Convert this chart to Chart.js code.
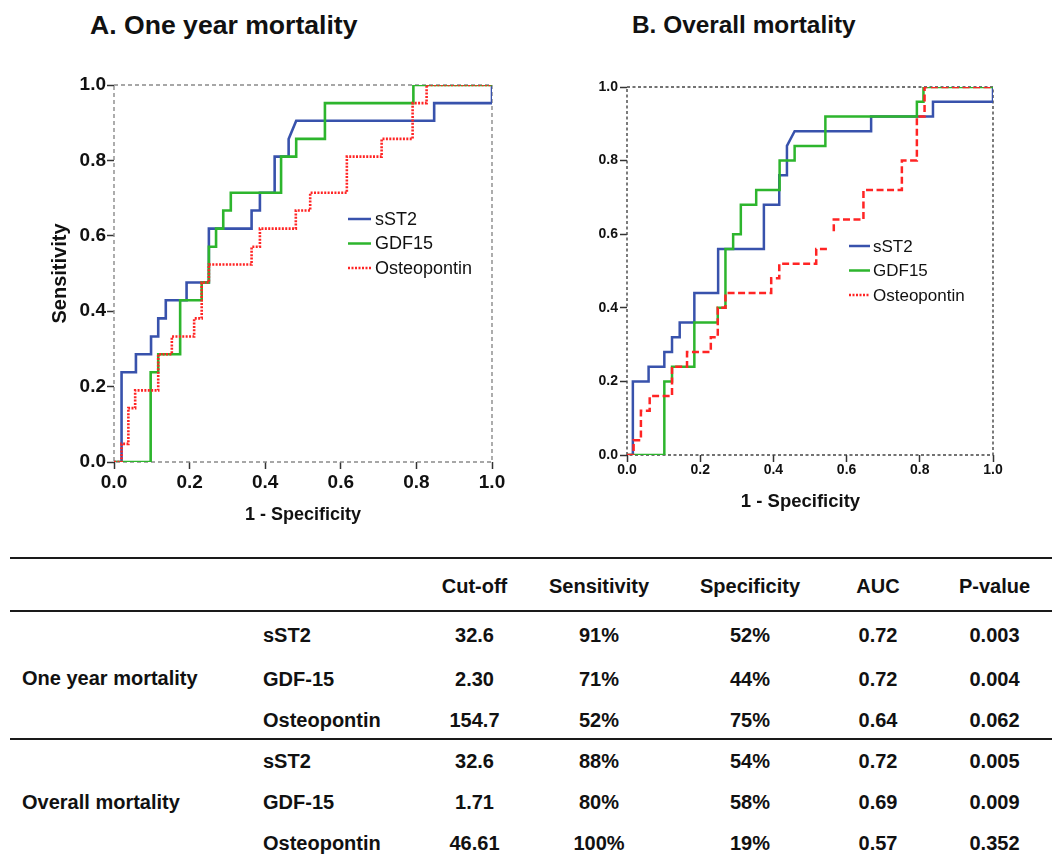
<!DOCTYPE html>
<html>
<head>
<meta charset="utf-8">
<script src="https://cdn.jsdelivr.net/npm/chart.js@4/dist/chart.umd.min.js"></script>
<style>
  html,body{margin:0;padding:0;background:#fff;}
  body{width:1052px;height:856px;position:relative;overflow:hidden;font-family:'Liberation Sans',Arial,Helvetica,sans-serif;color:#111;}
  .abs{position:absolute;white-space:nowrap;font-weight:bold;}
  .rule{position:absolute;left:10px;width:1042px;height:2px;background:#1a1a1a;}
  canvas{position:absolute;top:0;}
</style>
</head>
<body>
<div class="abs" style="left:90px;top:10px;font-size:26.6px;line-height:30px;">A. One year mortality</div>
<div class="abs" style="left:632px;top:10px;font-size:24.4px;line-height:30px;">B. Overall mortality</div>
<canvas id="chartA" width="520" height="540" style="left:0px"></canvas>
<canvas id="chartB" width="532" height="540" style="left:520px"></canvas>
<div id="table"></div>
<script>
// ---------- DATA ----------
const axisTicks = [0, 0.2, 0.4, 0.6, 0.8, 1.0];
const seriesNames = ['sST2', 'GDF15', 'Osteopontin'];

// Panel A: one year mortality (1 - specificity, sensitivity)
const A_sST2_fpr = [0, 0.02, 0.02, 0.058, 0.058, 0.098, 0.098, 0.117, 0.117, 0.137, 0.137, 0.192, 0.192, 0.251, 0.251, 0.364, 0.364, 0.386, 0.386, 0.425, 0.425, 0.462, 0.462, 0.482, 0.847, 0.847, 1.0, 1.0];
const A_sST2_tpr = [0, 0, 0.238, 0.238, 0.286, 0.286, 0.333, 0.333, 0.381, 0.381, 0.429, 0.429, 0.476, 0.476, 0.619, 0.619, 0.667, 0.667, 0.714, 0.714, 0.810, 0.810, 0.857, 0.905, 0.905, 0.952, 0.952, 1.0];
const A_GDF15_fpr = [0, 0.097, 0.097, 0.117, 0.117, 0.175, 0.175, 0.232, 0.232, 0.251, 0.251, 0.270, 0.270, 0.289, 0.289, 0.309, 0.309, 0.442, 0.442, 0.482, 0.482, 0.558, 0.558, 0.792, 0.792, 1.0];
const A_GDF15_tpr = [0, 0, 0.238, 0.238, 0.286, 0.286, 0.429, 0.429, 0.476, 0.476, 0.571, 0.571, 0.619, 0.619, 0.667, 0.667, 0.714, 0.714, 0.810, 0.810, 0.857, 0.857, 0.952, 0.952, 1.0, 1.0];
const A_OPN_fpr = [0, 0.02, 0.02, 0.038, 0.038, 0.056, 0.056, 0.117, 0.117, 0.153, 0.153, 0.212, 0.212, 0.232, 0.232, 0.251, 0.251, 0.364, 0.364, 0.386, 0.386, 0.481, 0.481, 0.519, 0.519, 0.616, 0.616, 0.708, 0.708, 0.790, 0.790, 0.827, 0.827, 1.0];
const A_OPN_tpr = [0, 0, 0.048, 0.048, 0.143, 0.143, 0.190, 0.190, 0.286, 0.286, 0.333, 0.333, 0.381, 0.381, 0.476, 0.476, 0.524, 0.524, 0.571, 0.571, 0.619, 0.619, 0.667, 0.667, 0.714, 0.714, 0.810, 0.810, 0.857, 0.857, 0.952, 0.952, 1.0, 1.0];

// Panel B: overall mortality
const B_sST2_fpr = [0, 0.016, 0.016, 0.059, 0.059, 0.102, 0.102, 0.123, 0.123, 0.144, 0.144, 0.184, 0.184, 0.249, 0.249, 0.374, 0.374, 0.416, 0.416, 0.437, 0.437, 0.458, 0.667, 0.667, 0.836, 0.836, 1.0, 1.0];
const B_sST2_tpr = [0, 0, 0.20, 0.20, 0.24, 0.24, 0.28, 0.28, 0.32, 0.32, 0.36, 0.36, 0.44, 0.44, 0.56, 0.56, 0.68, 0.68, 0.76, 0.76, 0.84, 0.88, 0.88, 0.92, 0.92, 0.96, 0.96, 1.0];
const B_GDF15_fpr = [0, 0.102, 0.102, 0.123, 0.123, 0.184, 0.184, 0.248, 0.248, 0.269, 0.269, 0.290, 0.290, 0.311, 0.311, 0.353, 0.353, 0.417, 0.417, 0.458, 0.458, 0.542, 0.542, 0.792, 0.792, 0.810, 0.810, 1.0];
const B_GDF15_tpr = [0, 0, 0.20, 0.20, 0.24, 0.24, 0.36, 0.36, 0.40, 0.40, 0.56, 0.56, 0.60, 0.60, 0.68, 0.68, 0.72, 0.72, 0.80, 0.80, 0.84, 0.84, 0.92, 0.92, 0.96, 0.96, 1.0, 1.0];
const B_OPN_fpr = [0, 0.018, 0.018, 0.038, 0.038, 0.062, 0.062, 0.123, 0.123, 0.164, 0.164, 0.229, 0.229, 0.248, 0.248, 0.269, 0.269, 0.394, 0.394, 0.416, 0.416, 0.517, 0.517, 0.565, 0.565, 0.646, 0.646, 0.751, 0.751, 0.792, 0.792, 0.813, 0.813, 1.0];
const B_OPN_tpr = [0, 0, 0.04, 0.04, 0.12, 0.12, 0.16, 0.16, 0.24, 0.24, 0.28, 0.28, 0.32, 0.32, 0.40, 0.40, 0.44, 0.44, 0.48, 0.48, 0.52, 0.52, 0.56, 0.56, 0.64, 0.64, 0.72, 0.72, 0.80, 0.80, 0.92, 0.92, 1.0, 1.0];

// Table
const tableHeaders = ['Cut-off', 'Sensitivity', 'Specificity', 'AUC', 'P-value'];
const groupLabels = ['One year mortality', 'Overall mortality'];
const markerNames = ['sST2', 'GDF-15', 'Osteopontin'];
const oneYearCutoff = ['32.6', '2.30', '154.7'];
const oneYearSens = ['91%', '71%', '52%'];
const oneYearSpec = ['52%', '44%', '75%'];
const oneYearAUC = ['0.72', '0.72', '0.64'];
const oneYearP = ['0.003', '0.004', '0.062'];
const overallCutoff = ['32.6', '1.71', '46.61'];
const overallSens = ['88%', '80%', '100%'];
const overallSpec = ['54%', '58%', '19%'];
const overallAUC = ['0.72', '0.69', '0.57'];
const overallP = ['0.005', '0.009', '0.352'];

// ---------- STYLE ----------
const BLUE = '#3852AC', GREEN = '#2DB52D', RED = '#FF2424';
const FONT = "'Liberation Sans', Arial, Helvetica, sans-serif";

function pts(xs, ys) { return xs.map((x, i) => ({x: x, y: ys[i]})); }

const framePlugin = {
  id: 'frame',
  beforeDatasetsDraw(chart, args, o) {
    const {ctx, chartArea: a} = chart;
    ctx.save();
    ctx.setLineDash(o.dash);
    ctx.strokeStyle = o.color;
    ctx.lineWidth = o.width;
    ctx.strokeRect(a.left, a.top, a.right - a.left, a.bottom - a.top);
    ctx.restore();
  },
  afterDatasetsDraw(chart, args, o) {
    const ctx = chart.ctx, L = o.legend;
    ctx.save();
    ctx.fillStyle = '#fff';
    ctx.fillRect(L.box[0], L.box[1], L.box[2], L.box[3]);
    ctx.font = L.size + 'px ' + FONT;
    ctx.textBaseline = 'middle';
    ctx.textAlign = 'left';
    L.items.forEach((it, i) => {
      const y = L.y0 + i * L.dy;
      ctx.beginPath();
      ctx.setLineDash(it.dash);
      ctx.strokeStyle = it.color;
      ctx.lineWidth = 2.5;
      ctx.moveTo(L.x0, y); ctx.lineTo(L.x1, y);
      ctx.stroke();
      ctx.setLineDash([]);
      ctx.fillStyle = '#111';
      ctx.fillText(it.label, L.tx, y + 1);
    });
    if (o.xTitle) {
      const t = o.xTitle;
      ctx.font = 'bold ' + t.size + 'px ' + FONT;
      ctx.textAlign = 'center';
      ctx.fillStyle = '#111';
      ctx.fillText(t.text, t.x, t.y);
    }
    ctx.restore();
  }
};

function makeChart(id, sets, c) {
  return new Chart(document.getElementById(id), {
    type: 'line',
    data: {datasets: sets},
    options: {
      responsive: false,
      animation: false,
      layout: {padding: c.padding},
      elements: {point: {radius: 0}, line: {tension: 0}},
      plugins: {
        legend: {display: false},
        tooltip: {enabled: false},
        frame: {dash: c.frameDash, color: c.frameColor, width: c.frameWidth, legend: c.legend, xTitle: c.xTitleDraw}
      },
      scales: {
        x: {
          type: 'linear', min: 0, max: 1,
          afterBuildTicks: s => { s.ticks = axisTicks.map(v => ({value: v})); },
          ticks: {callback: v => Number(v).toFixed(1), font: {size: c.tickSize, weight: 'bold', family: FONT}, color: '#111', padding: c.xPad, maxRotation: 0, autoSkip: false},
          grid: {drawOnChartArea: false, drawTicks: true, tickLength: c.tl, tickColor: '#333', tickWidth: 1.5},
          border: {display: false},
          title: {display: c.xTitle, text: '1 - Specificity', font: {size: c.titleSize, weight: 'bold', family: FONT}, color: '#111', padding: {top: 0, bottom: c.xTitlePad}},
          afterFit: s => { s.height = c.xh; }
        },
        y: {
          type: 'linear', min: 0, max: 1,
          afterBuildTicks: s => { s.ticks = axisTicks.map(v => ({value: v})); },
          ticks: {callback: v => Number(v).toFixed(1), font: {size: c.tickSize, weight: 'bold', family: FONT}, color: '#111', padding: c.yPad, autoSkip: false},
          grid: {drawOnChartArea: false, drawTicks: true, tickLength: c.tl, tickColor: '#333', tickWidth: 1.5},
          border: {display: false},
          title: {display: c.yTitle, text: 'Sensitivity', font: {size: c.yTitleSize, weight: 'bold', family: FONT}, color: '#111', padding: {top: c.yTitlePad, bottom: 0}},
          afterFit: s => { s.width = c.yw; }
        }
      }
    },
    plugins: [framePlugin]
  });
}

function legendItems() {
  return [
    {label: seriesNames[0], color: BLUE, dash: []},
    {label: seriesNames[1], color: GREEN, dash: []},
    {label: seriesNames[2], color: RED, dash: [2, 1.5]}
  ];
}

makeChart('chartA', [
  {label: seriesNames[2], data: pts(A_OPN_fpr, A_OPN_tpr), borderColor: RED, borderWidth: 2.6, borderDash: [2, 1.4], order: 0},
  {label: seriesNames[1], data: pts(A_GDF15_fpr, A_GDF15_tpr), borderColor: GREEN, borderWidth: 2.6, order: 1},
  {label: seriesNames[0], data: pts(A_sST2_fpr, A_sST2_tpr), borderColor: BLUE, borderWidth: 2.6, order: 2}
], {
  padding: {left: 0, right: 28, top: 85, bottom: 0},
  yw: 114, xh: 78, tl: 7, xPad: 2.5, yPad: 1,
  tickSize: 19, titleSize: 18, xTitle: true, xTitlePad: 14, yTitle: true, yTitleSize: 20, yTitlePad: 48,
  frameDash: [4, 3], frameColor: '#8a8a8a', frameWidth: 1.4,
  legend: {box: [342, 206, 140, 78], x0: 348, x1: 371, tx: 375, y0: 219, dy: 24.5, size: 18, items: legendItems()}
});

makeChart('chartB', [
  {label: seriesNames[2], data: pts(B_OPN_fpr, B_OPN_tpr), borderColor: RED, borderWidth: 2.5, borderDash: [7, 3.5], order: 0},
  {label: seriesNames[1], data: pts(B_GDF15_fpr, B_GDF15_tpr), borderColor: GREEN, borderWidth: 2.5, order: 1},
  {label: seriesNames[0], data: pts(B_sST2_fpr, B_sST2_tpr), borderColor: BLUE, borderWidth: 2.5, order: 2}
], {
  padding: {left: 0, right: 59, top: 87, bottom: 0},
  yw: 107, xh: 85, tl: 7, xPad: 0, yPad: 2,
  tickSize: 14, titleSize: 18.5, xTitle: false, xTitlePad: 0, yTitle: false, yTitleSize: 18, yTitlePad: 0,
  xTitleDraw: {text: '1 - Specificity', x: 280.5, y: 502, size: 18.5},
  frameDash: [3, 2.5], frameColor: '#444', frameWidth: 1.4,
  legend: {box: [309, 232, 136, 76], x0: 329, x1: 350, tx: 353, y0: 246, dy: 24.5, size: 17, items: legendItems()}
});

// ---------- TABLE ----------
(function buildTable() {
  const root = document.getElementById('table');
  const colX = [474.5, 599, 750, 878, 994.5];
  const fs = 20;
  function text(str, cy, opts) {
    const d = document.createElement('div');
    d.className = 'abs';
    d.style.fontSize = fs + 'px';
    d.style.lineHeight = '30px';
    d.style.top = (cy - 15) + 'px';
    if (opts.center !== undefined) {
      d.style.left = (opts.center - 70) + 'px';
      d.style.width = '140px';
      d.style.textAlign = 'center';
    } else {
      d.style.left = opts.left + 'px';
    }
    d.textContent = str;
    root.appendChild(d);
  }
  function rule(y) {
    const r = document.createElement('div');
    r.className = 'rule';
    r.style.top = (y - 1) + 'px';
    root.appendChild(r);
  }
  rule(558); rule(611); rule(739);
  tableHeaders.forEach((h, i) => text(h, 586, {center: colX[i]}));
  const groups = [
    {label: groupLabels[0], ly: 678, rows: [635, 678.5, 720], cols: [oneYearCutoff, oneYearSens, oneYearSpec, oneYearAUC, oneYearP]},
    {label: groupLabels[1], ly: 802, rows: [761, 802, 842.5], cols: [overallCutoff, overallSens, overallSpec, overallAUC, overallP]}
  ];
  groups.forEach(g => {
    text(g.label, g.ly, {left: 22});
    g.rows.forEach((y, r) => {
      text(markerNames[r], y, {left: 263});
      g.cols.forEach((col, c) => text(col[r], y, {center: colX[c]}));
    });
  });
})();
</script>
</body>
</html>
